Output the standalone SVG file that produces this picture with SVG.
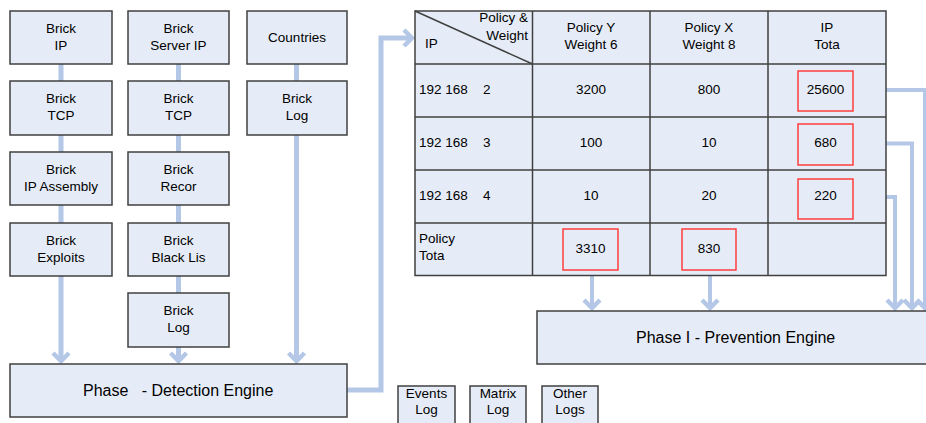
<svg xmlns="http://www.w3.org/2000/svg" width="926" height="423" viewBox="0 0 926 423">
  <style>
    .box { fill: #e6ecf7; stroke: #404040; stroke-width: 1.5; }
    .grid { fill: none; stroke: #404040; stroke-width: 1.5; }
    .hot { fill: none; stroke: #ff3c3c; stroke-width: 1.5; }
    .t { font-family: "Liberation Sans", Arial, sans-serif; font-size: 13.5px; fill: #000; text-anchor: middle; }
    .l { text-anchor: start; }
    .r { text-anchor: end; }
    .big { font-size: 16px; text-anchor: start; }
    .link { fill: none; stroke: #b4c7e7; stroke-width: 5; }
    .thin { stroke-width: 4; }
    .arrow { marker-end: url(#chev); }
  </style>
  <defs>
    <marker id="chev" markerUnits="userSpaceOnUse" viewBox="-14 -12 18 24" markerWidth="18" markerHeight="24" refX="0" refY="0" orient="auto">
      <path d="M-8,-8 L0,0 L-8,8" fill="none" stroke="#b4c7e7" stroke-width="4.5"/>
    </marker>
  </defs>

  <!-- connectors -->
  <g id="connectors">
    <!-- column 1 -->
    <line class="link" x1="61" y1="64" x2="61" y2="81"/>
    <line class="link" x1="61" y1="135" x2="61" y2="152"/>
    <line class="link" x1="61" y1="205" x2="61" y2="223"/>
    <line class="link arrow" x1="61" y1="276" x2="61" y2="361"/>
    <!-- column 2 -->
    <line class="link" x1="178.5" y1="64" x2="178.5" y2="81"/>
    <line class="link" x1="178.5" y1="135" x2="178.5" y2="152"/>
    <line class="link" x1="178.5" y1="205" x2="178.5" y2="223"/>
    <line class="link" x1="178.5" y1="276" x2="178.5" y2="293"/>
    <line class="link arrow" x1="178.5" y1="347" x2="178.5" y2="361"/>
    <!-- column 3 -->
    <line class="link" x1="296.5" y1="64" x2="296.5" y2="81"/>
    <line class="link arrow" x1="296.5" y1="135" x2="296.5" y2="361"/>
    <!-- detection engine to table -->
    <path class="link arrow" d="M347,390 H381 V38 H412"/>
    <!-- policy totals to prevention engine -->
    <line class="link thin arrow" x1="592" y1="276" x2="592" y2="308"/>
    <line class="link thin arrow" x1="710" y1="276" x2="710" y2="308"/>
    <!-- IP totals to prevention engine -->
    <path class="link thin arrow" d="M886,90 H925 V308"/>
    <path class="link thin arrow" d="M886,143.5 H912 V308"/>
    <path class="link thin arrow" d="M886,197 H895 V308"/>
  </g>

  <!-- column 1 -->
  <g id="brick-ip">
    <rect class="box" x="10" y="11" width="102" height="53"/>
    <text class="t" x="61" y="33">Brick</text>
    <text class="t" x="61" y="50">IP</text>
  </g>
  <g id="brick-tcp-1">
    <rect class="box" x="10" y="81" width="102" height="54"/>
    <text class="t" x="61" y="103">Brick</text>
    <text class="t" x="61" y="120">TCP</text>
  </g>
  <g id="brick-ip-assembly">
    <rect class="box" x="10" y="152" width="102" height="53"/>
    <text class="t" x="61" y="174">Brick</text>
    <text class="t" x="61" y="191">IP Assembly</text>
  </g>
  <g id="brick-exploits">
    <rect class="box" x="10" y="223" width="102" height="53"/>
    <text class="t" x="61" y="245">Brick</text>
    <text class="t" x="61" y="262">Exploits</text>
  </g>

  <!-- column 2 -->
  <g id="brick-server-ip">
    <rect class="box" x="128" y="11" width="101" height="53"/>
    <text class="t" x="178.5" y="33">Brick</text>
    <text class="t" x="178.5" y="50">Server IP</text>
  </g>
  <g id="brick-tcp-2">
    <rect class="box" x="128" y="81" width="101" height="54"/>
    <text class="t" x="178.5" y="103">Brick</text>
    <text class="t" x="178.5" y="120">TCP</text>
  </g>
  <g id="brick-record">
    <rect class="box" x="128" y="152" width="101" height="53"/>
    <text class="t" x="178.5" y="174">Brick</text>
    <text class="t" x="178.5" y="191">Recor</text>
  </g>
  <g id="brick-black-list">
    <rect class="box" x="128" y="223" width="101" height="53"/>
    <text class="t" x="178.5" y="245">Brick</text>
    <text class="t" x="178.5" y="262">Black Lis</text>
  </g>
  <g id="brick-log-2">
    <rect class="box" x="128" y="293" width="101" height="54"/>
    <text class="t" x="178.5" y="315">Brick</text>
    <text class="t" x="178.5" y="332">Log</text>
  </g>

  <!-- column 3 -->
  <g id="countries">
    <rect class="box" x="247" y="11" width="100" height="53"/>
    <text class="t" x="297" y="41.5">Countries</text>
  </g>
  <g id="brick-log-3">
    <rect class="box" x="247" y="81" width="100" height="54"/>
    <text class="t" x="297" y="103">Brick</text>
    <text class="t" x="297" y="120">Log</text>
  </g>

  <!-- detection engine -->
  <g id="detection-engine">
    <rect class="box" x="10" y="364" width="337" height="53"/>
    <text class="t big" x="83" y="395.5" xml:space="preserve">Phase   - Detection Engine</text>
  </g>

  <!-- scoring table -->
  <g id="score-table">
    <rect class="box" x="415" y="11" width="471" height="264.5"/>
    <path class="grid" d="M532.5,11 V275.5 M650,11 V275.5 M768,11 V275.5 M415,64 H886 M415,117 H886 M415,170 H886 M415,223 H886"/>
    <line class="grid" x1="415" y1="11" x2="532.5" y2="64"/>
    <!-- header -->
    <text class="t r" x="528" y="22">Policy &amp;</text>
    <text class="t r" x="528" y="40">Weight</text>
    <text class="t l" x="425" y="48">IP</text>
    <text class="t" x="591" y="32">Policy Y</text>
    <text class="t" x="591" y="49">Weight 6</text>
    <text class="t" x="709" y="32">Policy X</text>
    <text class="t" x="709" y="49">Weight 8</text>
    <text class="t" x="827" y="32">IP</text>
    <text class="t" x="827" y="49">Tota</text>
    <!-- row 1 -->
    <text class="t l" x="419" y="94">192 168</text>
    <text class="t l" x="483" y="94">2</text>
    <text class="t" x="591" y="94">3200</text>
    <text class="t" x="709" y="94">800</text>
    <rect class="hot" x="798" y="71" width="55" height="40"/>
    <text class="t" x="825.5" y="94">25600</text>
    <!-- row 2 -->
    <text class="t l" x="419" y="147">192 168</text>
    <text class="t l" x="483" y="147">3</text>
    <text class="t" x="591" y="147">100</text>
    <text class="t" x="709" y="147">10</text>
    <rect class="hot" x="798" y="124" width="55" height="41"/>
    <text class="t" x="825.5" y="147">680</text>
    <!-- row 3 -->
    <text class="t l" x="419" y="200">192 168</text>
    <text class="t l" x="483" y="200">4</text>
    <text class="t" x="591" y="200">10</text>
    <text class="t" x="709" y="200">20</text>
    <rect class="hot" x="798" y="179" width="55" height="40"/>
    <text class="t" x="825.5" y="200">220</text>
    <!-- totals row -->
    <text class="t l" x="419" y="243">Policy</text>
    <text class="t l" x="419" y="260">Tota</text>
    <rect class="hot" x="563" y="229" width="55" height="41"/>
    <text class="t" x="590.5" y="253">3310</text>
    <rect class="hot" x="682" y="229" width="54" height="41"/>
    <text class="t" x="709" y="253">830</text>
  </g>

  <!-- prevention engine -->
  <g id="prevention-engine">
    <rect class="box" x="537" y="311" width="397" height="53"/>
    <text class="t big" x="636" y="342.5">Phase I - Prevention Engine</text>
  </g>

  <!-- log stores -->
  <g id="events-log">
    <rect class="box" x="398" y="386" width="57" height="45"/>
    <text class="t" x="426.5" y="397.5">Events</text>
    <text class="t" x="426.5" y="414">Log</text>
  </g>
  <g id="matrix-log">
    <rect class="box" x="470" y="386" width="56" height="45"/>
    <text class="t" x="498" y="397.5">Matrix</text>
    <text class="t" x="498" y="414">Log</text>
  </g>
  <g id="other-logs">
    <rect class="box" x="542" y="386" width="56" height="45"/>
    <text class="t" x="570" y="397.5">Other</text>
    <text class="t" x="570" y="414">Logs</text>
  </g>
</svg>
